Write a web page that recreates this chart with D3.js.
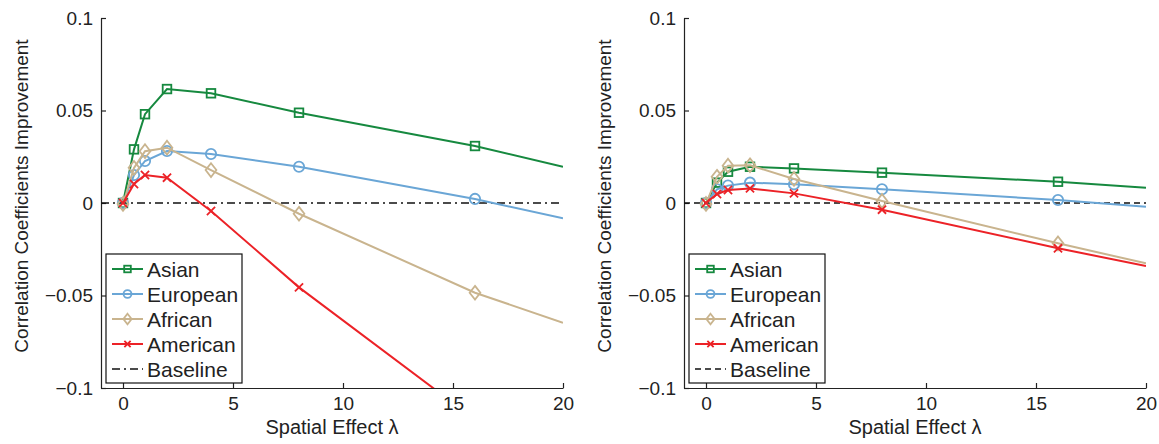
<!DOCTYPE html>
<html>
<head>
<meta charset="utf-8">
<script src="https://cdn.jsdelivr.net/npm/d3@7"></script>
<style>
  body { margin: 0; background: #fff; }
  svg { display: block; font-family: "Liberation Sans", Arial, sans-serif; }
</style>
</head>
<body>
<svg id="chart" width="1159" height="444"></svg>
<script>
// lambda values (last point has no marker, line runs to the axis edge)
const lambdas = [0, 0.5, 1, 2, 4, 8, 16, 20];
const seriesNames = ["Asian", "European", "African", "American"];
const xTicks = [0, 5, 10, 15, 20];
const yTicks = [-0.1, -0.05, 0, 0.05, 0.1];

// left panel
const leftAsian    = [0, 0.029, 0.048, 0.0616, 0.0593, 0.0488, 0.0308, 0.0196];
const leftEuropean = [0, 0.0151, 0.0227, 0.0281, 0.0265, 0.0196, 0.0022, -0.0083];
const leftAfrican  = [-0.0005, 0.019, 0.028, 0.0299, 0.0178, -0.0058, -0.0485, -0.0647];
const leftAmerican = [0, 0.0103, 0.0151, 0.0137, -0.0043, -0.0456, -0.117, -0.153];

// right panel
const rightAsian    = [0, 0.011, 0.0169, 0.0196, 0.0187, 0.0164, 0.0115, 0.0083];
const rightEuropean = [0, 0.0074, 0.0094, 0.011, 0.0101, 0.0074, 0.0016, -0.002];
const rightAfrican  = [-0.0005, 0.0142, 0.0202, 0.0204, 0.013, 0.0011, -0.0218, -0.0326];
const rightAmerican = [0, 0.0049, 0.007, 0.0079, 0.0052, -0.0036, -0.0245, -0.034];

const colors = {
    Asian: "#16893f",
    European: "#6aa6d6",
    African: "#c9b48e",
    American: "#ec2227"
};
const markers = { Asian: "square", European: "circle", African: "diamond", American: "cross" };

const panels = [
    { left: 101, right: 563, values: [leftAsian, leftEuropean, leftAfrican, leftAmerican],
      dash: "8,4,2,4", legendX: 106 },
    { left: 684, right: 1146, values: [rightAsian, rightEuropean, rightAfrican, rightAmerican],
      dash: "6,4", legendX: 689 }
];

const svg = d3.select("#chart");
const plotTop = 18, plotBottom = 388;
const fmt = d => d === 0 ? "0" : (d < 0 ? "\u2212" : "") + String(Math.abs(d));

function drawMarker(g, type, x, y, color, s) {
    if (type === "square") {
        g.append("rect").attr("x", x - s).attr("y", y - s)
            .attr("width", 2 * s).attr("height", 2 * s)
            .attr("fill", "none").attr("stroke", color).attr("stroke-width", 1.8);
    } else if (type === "circle") {
        g.append("circle").attr("cx", x).attr("cy", y).attr("r", s * 1.2)
            .attr("fill", "none").attr("stroke", color).attr("stroke-width", 1.8);
    } else if (type === "diamond") {
        const w = s * 1.25, h = s * 1.6;
        g.append("path")
            .attr("d", `M${x},${y - h}L${x + w},${y}L${x},${y + h}L${x - w},${y}Z`)
            .attr("fill", "none").attr("stroke", color).attr("stroke-width", 1.8);
    } else {
        const c = s * 0.95;
        g.append("path")
            .attr("d", `M${x - c},${y - c}L${x + c},${y + c}M${x - c},${y + c}L${x + c},${y - c}`)
            .attr("stroke", color).attr("stroke-width", 1.8);
    }
}

panels.forEach((p, pi) => {
    const x = d3.scaleLinear().domain([-1, 20]).range([p.left, p.right]);
    const y = d3.scaleLinear().domain([-0.1, 0.1]).range([plotBottom, plotTop]);
    const g = svg.append("g");

    const clipId = "clip" + pi;
    svg.append("clipPath").attr("id", clipId)
        .append("rect").attr("x", p.left).attr("y", plotTop)
        .attr("width", p.right - p.left).attr("height", plotBottom - plotTop);

    // axes
    const xAxis = g.append("g").attr("transform", `translate(0,${plotBottom})`)
        .call(d3.axisBottom(x).tickValues(xTicks).tickSizeInner(-5).tickSizeOuter(0)
            .tickPadding(9).tickFormat(d3.format("d")));
    const yAxis = g.append("g").attr("transform", `translate(${p.left},0)`)
        .call(d3.axisLeft(y).tickValues(yTicks).tickSizeInner(-5).tickSizeOuter(0)
            .tickPadding(8).tickFormat(fmt));
    [xAxis, yAxis].forEach(a => {
        a.selectAll("path, line").attr("stroke", "#222").attr("stroke-width", 1.2);
        a.selectAll("text").attr("font-size", 19).attr("fill", "#222")
            .attr("font-family", "Liberation Sans, Arial, sans-serif");
    });

    g.append("text")
        .attr("x", (x(-1) + x(20)) / 2).attr("y", 434)
        .attr("text-anchor", "middle").attr("font-size", 20).attr("fill", "#222")
        .text("Spatial Effect \u03bb");
    g.append("text")
        .attr("transform", `translate(${p.left - 73},196) rotate(-90)`)
        .attr("text-anchor", "middle").attr("font-size", 19).attr("fill", "#222")
        .text("Correlation Coefficients Improvement");

    const plot = g.append("g").attr("clip-path", `url(#${clipId})`);

    const line = d3.line().x(d => x(d.x)).y(d => y(d.y));

    // baseline
    plot.append("path")
        .datum([{ x: -1, y: 0 }, { x: 20, y: 0 }])
        .attr("d", line).attr("stroke", "#111").attr("stroke-width", 1.6)
        .attr("stroke-dasharray", p.dash).attr("fill", "none");

    seriesNames.forEach((name, si) => {
        const pts = lambdas.map((l, i) => ({ x: l, y: p.values[si][i] }));
        plot.append("path").datum(pts).attr("d", line)
            .attr("fill", "none").attr("stroke", colors[name]).attr("stroke-width", 2);
        pts.filter(d => d.x < 20).forEach(d => {
            drawMarker(plot, markers[name], x(d.x), y(d.y), colors[name], 4.3);
        });
    });

    // legend
    const lx = p.legendX, ly = 254;
    const lg = g.append("g");
    lg.append("rect").attr("x", lx).attr("y", ly).attr("width", 136).attr("height", 129)
        .attr("fill", "#fff").attr("stroke", "#111").attr("stroke-width", 1.2);
    const entries = seriesNames.concat(["Baseline"]);
    entries.forEach((name, i) => {
        const cy = ly + 15 + i * 25;
        const x0 = lx + 6, x1 = lx + 37;
        if (name === "Baseline") {
            lg.append("line").attr("x1", x0).attr("x2", x1).attr("y1", cy).attr("y2", cy)
                .attr("stroke", "#111").attr("stroke-width", 1.6).attr("stroke-dasharray", p.dash);
        } else {
            lg.append("line").attr("x1", x0).attr("x2", x1).attr("y1", cy).attr("y2", cy)
                .attr("stroke", colors[name]).attr("stroke-width", 2);
            drawMarker(lg, markers[name], (x0 + x1) / 2, cy, colors[name], 3.3);
        }
        lg.append("text").attr("x", lx + 41).attr("y", cy).attr("dy", "0.36em")
            .attr("font-size", 21).attr("fill", "#222").text(name);
    });
});
</script>
</body>
</html>
